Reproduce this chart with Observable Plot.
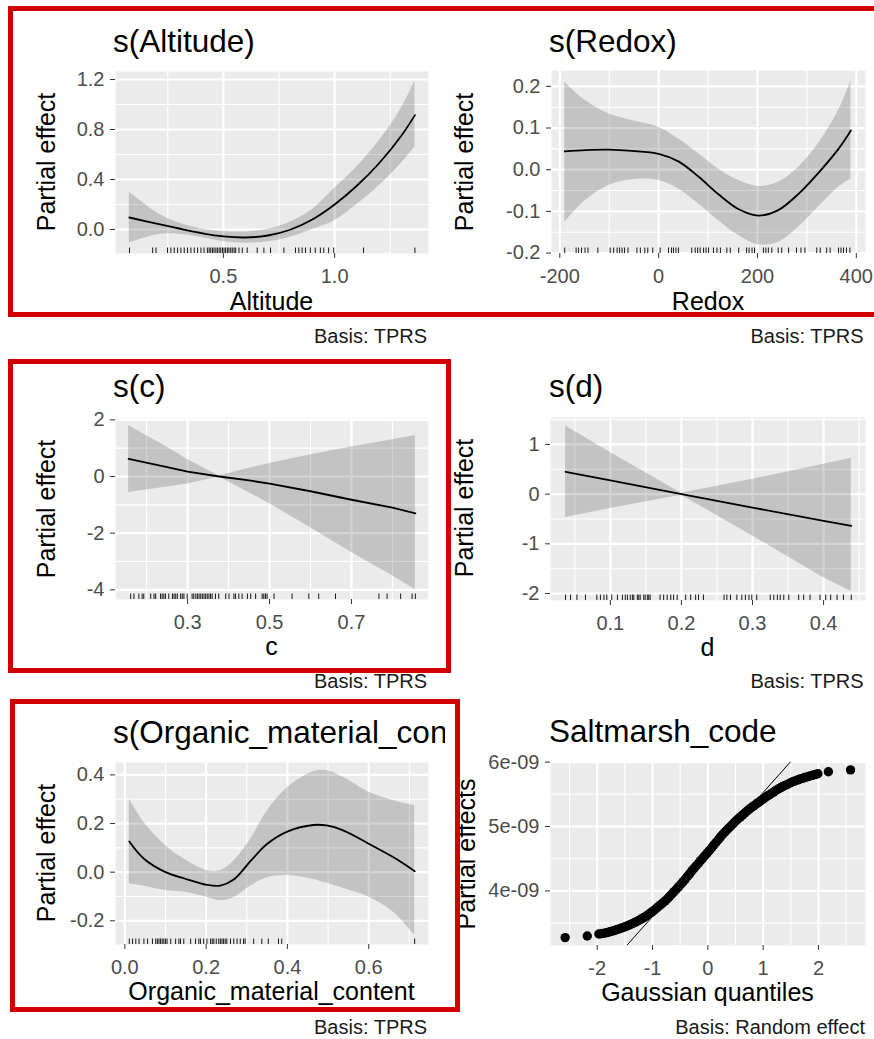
<!DOCTYPE html>
<html>
<head>
<meta charset="utf-8">
<script src="https://cdn.jsdelivr.net/npm/d3@7"></script>
<script src="https://cdn.jsdelivr.net/npm/@observablehq/plot@0.6"></script>
<style>
  body { margin: 0; background: #fff; }
  #chart { position: relative; width: 874px; height: 1039px; overflow: hidden; }
  #chart svg { position: absolute; }
</style>
</head>
<body>
<div id="chart"></div>
<script>
// ---- s(Altitude): fitted smooth with ~95% band, and rug of observed values
const altX     = [0.077, 0.2, 0.3, 0.4, 0.5, 0.6, 0.7, 0.8, 0.9, 1.0, 1.1, 1.2, 1.3, 1.361];
const altFit   = [0.096, 0.047, 0.008, -0.028, -0.055, -0.064, -0.048, -0.002, 0.08, 0.20, 0.35, 0.53, 0.75, 0.915];
const altUpper = [0.30, 0.137, 0.053, 0.007, -0.015, -0.019, 0.002, 0.058, 0.16, 0.33, 0.50, 0.71, 0.97, 1.19];
const altLower = [-0.108, -0.043, -0.037, -0.063, -0.095, -0.109, -0.098, -0.062, 0.0, 0.07, 0.20, 0.35, 0.53, 0.66];
const altRug = [0.078, 0.182, 0.197, 0.249, 0.264, 0.279, 0.294, 0.309, 0.324, 0.339, 0.354, 0.369, 0.384, 0.399,
  0.413, 0.428, 0.436, 0.443, 0.451, 0.458, 0.466, 0.473, 0.481, 0.488, 0.496, 0.503, 0.510, 0.518, 0.525, 0.533,
  0.540, 0.548, 0.555, 0.570, 0.585, 0.607, 0.652, 0.682, 0.712, 0.772, 0.824, 0.839, 0.854, 0.869, 0.891, 0.913,
  0.936, 0.951, 0.973, 0.996, 1.130, 1.361];
const altXTicks = [0.5, 1.0];
const altYTicks = [0, 0.4, 0.8, 1.2];

// ---- s(Redox)
const redX     = [-190, -148, -101, -54, 0, 40, 81, 121, 162, 202, 242, 283, 323, 364, 389];
const redFit   = [0.044, 0.047, 0.048, 0.045, 0.038, 0.02, -0.017, -0.059, -0.095, -0.110, -0.097, -0.058, -0.008, 0.05, 0.094];
const redUpper = [0.210, 0.166, 0.134, 0.118, 0.102, 0.074, 0.038, 0.002, -0.026, -0.040, -0.030, 0.006, 0.062, 0.142, 0.213];
const redLower = [-0.126, -0.074, -0.038, -0.024, -0.026, -0.046, -0.082, -0.122, -0.158, -0.180, -0.174, -0.138, -0.090, -0.042, -0.022];
const redRug = [-190, -167, -162, -156, -149, -143, -123, -98, -91, -84, -79, -74, -69, -62, -44, -37, -28, -22, -12,
  3, 20, 26, 30, 35, 40, 67, 74, 79, 84, 91, 96, 101, 111, 118, 125, 138, 145, 162, 178, 183, 189, 194, 212, 217,
  222, 229, 242, 249, 263, 279, 288, 296, 320, 327, 340, 347, 364, 369, 374, 380, 387];
const redXTicks = [-200, 0, 200, 400];
const redYTicks = [-0.2, -0.1, 0, 0.1, 0.2];

// ---- s(c)
const cX     = [0.156, 0.25, 0.3, 0.377, 0.45, 0.5, 0.6, 0.7, 0.8, 0.856];
const cFit   = [0.62, 0.33, 0.17, 0.0, -0.14, -0.25, -0.52, -0.82, -1.10, -1.30];
const cUpper = [1.80, 1.03, 0.60, 0.02, 0.29, 0.46, 0.77, 1.04, 1.30, 1.45];
const cLower = [-0.56, -0.37, -0.26, -0.02, -0.57, -0.96, -1.81, -2.68, -3.50, -4.00];
const cRug = [0.161, 0.169, 0.181, 0.189, 0.193, 0.210, 0.218, 0.222, 0.234, 0.238, 0.242, 0.246, 0.254, 0.263,
  0.267, 0.271, 0.275, 0.283, 0.287, 0.291, 0.299, 0.311, 0.315, 0.320, 0.324, 0.328, 0.332, 0.336, 0.340, 0.344,
  0.348, 0.352, 0.356, 0.360, 0.368, 0.376, 0.393, 0.401, 0.413, 0.417, 0.425, 0.433, 0.446, 0.454, 0.466, 0.482,
  0.486, 0.490, 0.494, 0.511, 0.555, 0.596, 0.620, 0.661, 0.767, 0.787, 0.820, 0.848, 0.856];
const cXTicks = [0.3, 0.5, 0.7];
const cYTicks = [-4, -2, 0, 2];

// ---- s(d)
const dX     = [0.037, 0.1, 0.2, 0.3, 0.4, 0.439];
const dFit   = [0.45, 0.276, 0.0, -0.27, -0.54, -0.64];
const dUpper = [1.37, 0.84, 0.02, 0.30, 0.60, 0.72];
const dLower = [-0.47, -0.29, -0.02, -0.84, -1.68, -1.96];
const dRug = [0.037, 0.044, 0.053, 0.065, 0.081, 0.086, 0.091, 0.095, 0.102, 0.110, 0.117, 0.121, 0.124, 0.128,
  0.131, 0.133, 0.138, 0.140, 0.142, 0.147, 0.149, 0.152, 0.154, 0.156, 0.170, 0.175, 0.180, 0.185, 0.189, 0.194,
  0.206, 0.213, 0.220, 0.224, 0.231, 0.260, 0.264, 0.269, 0.278, 0.285, 0.290, 0.295, 0.299, 0.306, 0.325, 0.330,
  0.335, 0.339, 0.344, 0.351, 0.365, 0.372, 0.381, 0.395, 0.403, 0.410, 0.419, 0.428, 0.439];
const dXTicks = [0.1, 0.2, 0.3, 0.4];
const dYTicks = [-2, -1, 0, 1];

// ---- s(Organic_material_content)
const orgX     = [0.011, 0.047, 0.10, 0.145, 0.202, 0.235, 0.268, 0.309, 0.349, 0.401, 0.464, 0.496, 0.537, 0.601, 0.66, 0.713];
const orgFit   = [0.126, 0.055, 0.0, -0.025, -0.052, -0.055, -0.03, 0.045, 0.115, 0.168, 0.194, 0.192, 0.172, 0.116, 0.062, 0.004];
const orgUpper = [0.301, 0.205, 0.11, 0.055, 0.007, 0.007, 0.045, 0.134, 0.248, 0.349, 0.413, 0.418, 0.39, 0.329, 0.295, 0.274];
const orgLower = [-0.048, -0.058, -0.075, -0.082, -0.103, -0.117, -0.105, -0.058, -0.024, -0.014, -0.030, -0.045, -0.066, -0.103, -0.164, -0.26];
const orgRug = [0.011, 0.019, 0.027, 0.035, 0.047, 0.056, 0.068, 0.076, 0.080, 0.084, 0.088, 0.092, 0.096, 0.100,
  0.104, 0.113, 0.125, 0.133, 0.137, 0.145, 0.162, 0.174, 0.182, 0.186, 0.194, 0.202, 0.211, 0.215, 0.219, 0.225,
  0.231, 0.235, 0.239, 0.243, 0.247, 0.251, 0.260, 0.268, 0.276, 0.284, 0.292, 0.296, 0.317, 0.337, 0.353, 0.378,
  0.386, 0.713];
const orgXTicks = [0, 0.2, 0.4, 0.6];
const orgYTicks = [-0.2, 0, 0.2, 0.4];

// ---- Saltmarsh_code random effect: Q-Q of the estimated effects
const qqQ = [-2.58, -2.18,
  -1.97, -1.93, -1.89, -1.85, -1.81, -1.77, -1.73, -1.69, -1.65, -1.61, -1.57, -1.53, -1.49, -1.45, -1.41, -1.37,
  -1.33, -1.29, -1.25, -1.21, -1.17, -1.13, -1.09, -1.05, -1.01, -0.97, -0.93, -0.89, -0.85, -0.81, -0.77, -0.73,
  -0.69, -0.65, -0.61, -0.57, -0.53, -0.49, -0.45, -0.41, -0.37, -0.33, -0.29, -0.25, -0.21, -0.17, -0.13, -0.09,
  -0.05, -0.01, 0.03, 0.07, 0.11, 0.15, 0.19, 0.23, 0.27, 0.31, 0.35, 0.39, 0.43, 0.47, 0.51, 0.55, 0.59, 0.63,
  0.67, 0.71, 0.75, 0.79, 0.83, 0.87, 0.91, 0.95, 0.99, 1.03, 1.07, 1.11, 1.15, 1.19, 1.23, 1.27, 1.31, 1.35, 1.39,
  1.43, 1.47, 1.51, 1.55, 1.59, 1.63, 1.67, 1.71, 1.75, 1.79, 1.83, 1.87, 1.91, 1.95, 1.99,
  2.18, 2.58];
const qqEffect = [3.275e-9, 3.30e-9,
  3.33e-9, 3.335e-9, 3.34e-9, 3.348e-9, 3.356e-9, 3.365e-9, 3.375e-9, 3.386e-9, 3.397e-9, 3.408e-9, 3.42e-9,
  3.432e-9, 3.445e-9, 3.46e-9, 3.475e-9, 3.49e-9, 3.505e-9, 3.522e-9, 3.54e-9, 3.56e-9, 3.58e-9, 3.60e-9, 3.624e-9,
  3.65e-9, 3.675e-9, 3.70e-9, 3.73e-9, 3.758e-9, 3.787e-9, 3.816e-9, 3.845e-9, 3.878e-9, 3.915e-9, 3.952e-9,
  3.988e-9, 4.025e-9, 4.062e-9, 4.10e-9, 4.14e-9, 4.18e-9, 4.225e-9, 4.265e-9, 4.31e-9, 4.35e-9, 4.39e-9, 4.43e-9,
  4.47e-9, 4.51e-9, 4.55e-9, 4.59e-9, 4.63e-9, 4.67e-9, 4.715e-9, 4.755e-9, 4.795e-9, 4.84e-9, 4.88e-9, 4.915e-9,
  4.95e-9, 4.985e-9, 5.02e-9, 5.055e-9, 5.09e-9, 5.12e-9, 5.15e-9, 5.18e-9, 5.21e-9, 5.24e-9, 5.27e-9, 5.295e-9,
  5.32e-9, 5.345e-9, 5.37e-9, 5.395e-9, 5.42e-9, 5.445e-9, 5.47e-9, 5.49e-9, 5.515e-9, 5.535e-9, 5.56e-9, 5.58e-9,
  5.60e-9, 5.62e-9, 5.635e-9, 5.65e-9, 5.668e-9, 5.685e-9, 5.70e-9, 5.713e-9, 5.725e-9, 5.737e-9, 5.748e-9,
  5.76e-9, 5.77e-9, 5.78e-9, 5.79e-9, 5.80e-9, 5.81e-9, 5.82e-9,
  5.85e-9, 5.88e-9];
// reference line through the quartiles, drawn across the panel and clipped
const qqLineQ = [-2.84, 2.85];
const qqLineEffect = [1.83e-9, 7.31e-9];
const qqXTicks = [-2, -1, 0, 1, 2];
const qqYTicks = [4e-9, 5e-9, 6e-9];

// ---- text
const titles = ["s(Altitude)", "s(Redox)", "s(c)", "s(d)", "s(Organic_material_content)", "Saltmarsh_code"];
const xTitles = ["Altitude", "Redox", "c", "d", "Organic_material_content", "Gaussian quantiles"];
const yTitles = ["Partial effect", "Partial effect", "Partial effect", "Partial effect", "Partial effect", "Partial effects"];
const captions = ["Basis: TPRS", "Basis: TPRS", "Basis: TPRS", "Basis: TPRS", "Basis: TPRS", "Basis: Random effect"];

// ---------------------------------------------------------------------------
const FONT = '"Liberation Sans", Arial, Helvetica, sans-serif';
const chart = document.getElementById("chart");
const f1 = d => d.toFixed(1);
const f0 = d => String(d);
const fSci = d => Math.round(d * 1e9) + "e-09";

// minor breaks sit halfway between major breaks (ggplot style)
function minorBreaks(major, domain) {
  const step = major[1] - major[0];
  const out = [];
  for (let i = -1; i < major.length; i++) {
    const a = i < 0 ? major[0] - step : major[i];
    const m = a + step / 2;
    if (m > domain[0] && m < domain[1]) out.push(m);
  }
  return out;
}

// Layout of each panel: frame rectangle in page pixels and scale domains
const layout = [
  {frame: [115, 428, 71, 253],   xDomain: [0.015, 1.422],   yDomain: [-0.192, 1.264],  xT: altXTicks, yT: altYTicks, xF: f1, yF: f1},
  {frame: [551, 865, 70, 253],   xDomain: [-216.8, 418.6],  yDomain: [-0.201, 0.238],  xT: redXTicks, yT: redYTicks, xF: f0, yF: f1},
  {frame: [115, 428, 418, 599],  xDomain: [0.124, 0.888],   yDomain: [-4.34, 2.047],   xT: cXTicks,   yT: cYTicks,   xF: f1, yF: f0},
  {frame: [550, 865, 417, 600],  xDomain: [0.0158, 0.459],  yDomain: [-2.14, 1.542],   xT: dXTicks,   yT: dYTicks,   xF: f1, yF: f0},
  {frame: [115, 428, 762, 944],  xDomain: [-0.0229, 0.747], yDomain: [-0.2975, 0.451], xT: orgXTicks, yT: orgYTicks, xF: f1, yF: f1},
  {frame: [550, 865, 762, 945],  xDomain: [-2.845, 2.851],  yDomain: [3.152e-9, 5.994e-9], xT: qqXTicks, yT: qqYTicks, xF: f0, yF: fSci}
];

function drawPanel(cfg, marks) {
  const [fx0, fx1, fy0, fy1] = cfg.frame;
  const mL = 90, mR = 14, mT = 4, mB = 40;
  const W = fx1 - fx0, H = fy1 - fy0;
  const white = {stroke: "#ffffff", strokeOpacity: 1};
  const svg = Plot.plot({
    width: W + mL + mR, height: H + mT + mB,
    marginLeft: mL, marginRight: mR, marginTop: mT, marginBottom: mB,
    x: {domain: cfg.xDomain},
    y: {domain: cfg.yDomain},
    style: {fontFamily: FONT, fontSize: "20px", color: "#4d4d4d", background: "transparent", overflow: "visible"},
    marks: [
      Plot.frame({fill: "#ebebeb", stroke: "none"}),
      Plot.gridX(minorBreaks(cfg.xT, cfg.xDomain), {...white, strokeWidth: 1.1}),
      Plot.gridY(minorBreaks(cfg.yT, cfg.yDomain), {...white, strokeWidth: 1.1}),
      Plot.gridX(cfg.xT, {...white, strokeWidth: 2.2}),
      Plot.gridY(cfg.yT, {...white, strokeWidth: 2.2}),
      ...marks(H),
      Plot.axisX(cfg.xT, {tickSize: 5, tickPadding: 10, tickFormat: cfg.xF, color: "#4d4d4d", stroke: "#333333", fontSize: 20, label: null}),
      Plot.axisY(cfg.yT, {tickSize: 5, tickPadding: 6, tickFormat: cfg.yF, color: "#4d4d4d", stroke: "#333333", fontSize: 20, label: null})
    ]
  });
  svg.style.left = (fx0 - mL) + "px";
  svg.style.top = (fy0 - mT) + "px";
  chart.appendChild(svg);
}

const band = {fill: "#000000", fillOpacity: 0.17};
const fitLine = {stroke: "#000000", strokeWidth: 1.8};
const rug = H => ({insetTop: H - 5.5, stroke: "#1a1a1a", strokeWidth: 1});

function smoothPanel(cfg, xs, fit, lo, hi, rugVals, curve) {
  drawPanel(cfg, H => [
    Plot.areaY(xs, {x: xs, y1: lo, y2: hi, curve, ...band}),
    Plot.line(xs, {x: xs, y: fit, curve, ...fitLine}),
    Plot.ruleX(rugVals, {x: d => d, ...rug(H)})
  ]);
}

smoothPanel(layout[0], altX, altFit, altLower, altUpper, altRug, "catmull-rom");
smoothPanel(layout[1], redX, redFit, redLower, redUpper, redRug, "catmull-rom");
smoothPanel(layout[2], cX, cFit, cLower, cUpper, cRug, "linear");
smoothPanel(layout[3], dX, dFit, dLower, dUpper, dRug, "linear");
smoothPanel(layout[4], orgX, orgFit, orgLower, orgUpper, orgRug, "catmull-rom");
drawPanel(layout[5], () => [
  Plot.dot(qqQ, {x: qqQ, y: qqEffect, r: 4.7, fill: "#000000"}),
  Plot.line(qqLineQ, {x: qqLineQ, y: qqLineEffect, stroke: "#000000", strokeWidth: 1, clip: true})
]);

// ---- titles, axis titles, captions and highlight boxes
const ov = d3.select(chart).append("svg")
  .attr("width", 874).attr("height", 1039)
  .style("left", "0px").style("top", "0px")
  .style("font-family", FONT);

ov.append("clipPath").attr("id", "leftcol").append("rect")
  .attr("x", 0).attr("y", 0).attr("width", 445).attr("height", 1039);

const titlePos = [[113, 52], [549, 52], [113, 397], [549, 397], [113, 743], [549, 742]];
titles.forEach((t, i) => {
  ov.append("text").attr("x", titlePos[i][0]).attr("y", titlePos[i][1])
    .attr("font-size", 31.5).attr("fill", "#000")
    .attr("clip-path", i === 4 ? "url(#leftcol)" : null)
    .text(t);
});

const xTitlePos = [[271.5, 310], [708, 310], [271.5, 655], [707.5, 656], [271.5, 1000], [707.5, 1001]];
xTitles.forEach((t, i) => {
  ov.append("text").attr("x", xTitlePos[i][0]).attr("y", xTitlePos[i][1])
    .attr("font-size", 25).attr("text-anchor", "middle").attr("fill", "#000").text(t);
});

const yTitlePos = [[55, 162], [473, 162], [55, 509], [473, 508], [55, 853], [475, 854]];
yTitles.forEach((t, i) => {
  ov.append("text")
    .attr("transform", `translate(${yTitlePos[i][0]},${yTitlePos[i][1]}) rotate(-90)`)
    .attr("font-size", 25).attr("text-anchor", "middle").attr("fill", "#000").text(t);
});

const capPos = [[427, 343], [863.5, 343], [427, 688], [863.5, 688], [427, 1034], [865, 1034]];
captions.forEach((t, i) => {
  ov.append("text").attr("x", capPos[i][0]).attr("y", capPos[i][1])
    .attr("font-size", 20).attr("text-anchor", "end").attr("fill", "#1a1a1a").text(t);
});

const boxes = [[10.5, 8.5, 880, 306], [10.5, 361.5, 438, 309], [12.5, 701.5, 445, 308]];
boxes.forEach(([x, y, w, h]) => {
  ov.append("rect").attr("x", x).attr("y", y).attr("width", w).attr("height", h)
    .attr("fill", "none").attr("stroke", "#d00000").attr("stroke-width", 5);
});
</script>
</body>
</html>
